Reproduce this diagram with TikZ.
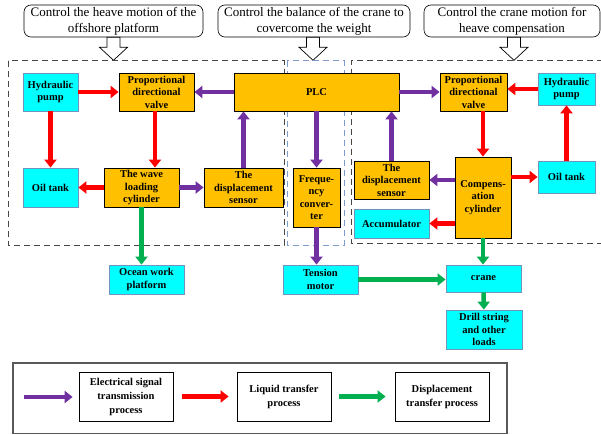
\documentclass[tikz,border=0pt]{standalone}
\usepackage{fontspec}
\setmainfont{Liberation Serif}
\usepackage{xcolor}
\usetikzlibrary{arrows.meta, positioning, calc}
\definecolor{cOrange}{RGB}{255,192,0}
\definecolor{cCyan}{RGB}{0,255,255}
\definecolor{cCyanEdge}{RGB}{112,148,190}
\definecolor{cPurple}{RGB}{112,48,160}
\definecolor{cRed}{RGB}{255,0,0}
\definecolor{cGreen}{RGB}{0,176,80}
\definecolor{cBlueDash}{RGB}{125,155,205}
\definecolor{cGrayDash}{RGB}{70,70,70}
\tikzset{
	unit/.style     ={rectangle, draw=black, line width=0.8pt, fill=cOrange, align=center, inner sep=1pt, font=\bfseries\fontsize{10.5}{12.5}\selectfont},
	device/.style   ={rectangle, draw=cCyanEdge, line width=0.8pt, fill=cCyan, align=center, inner sep=1pt, font=\bfseries\fontsize{10.5}{12.5}\selectfont},
	goal/.style     ={rectangle, rounded corners=7pt, draw=black, line width=0.6pt, align=center, inner sep=1pt, font=\fontsize{13}{16}\selectfont},
	legbox/.style   ={rectangle, draw=black, line width=0.8pt, align=center, minimum width=94pt, minimum height=49pt, font=\bfseries\fontsize{10.5}{14}\selectfont},
	flowarrow/.style={-{Triangle[length=8pt,width=12pt]}, line width=4.5pt},
	sig/.style      ={flowarrow, color=cPurple},
	liq/.style      ={flowarrow, color=cRed},
	disp/.style     ={flowarrow, color=cGreen},
	hollow/.style   ={draw=black, fill=white, line width=0.7pt, line join=miter},
	zone/.style     ={dash pattern=on 6pt off 4pt, line width=1pt},
}
\begin{document}
\begin{tikzpicture}[x=1pt, y=-1pt]
	\useasboundingbox (0,0) rectangle (601,435);
	% aims
	\node[goal, minimum width=179pt, minimum height=32pt] (t1) at (113.5,21) {Control the heave motion of the\\offshore platform};
	\node[goal, minimum width=192pt, minimum height=32pt] (t2) at (314,21) {Control the balance of the crane to\\covercome the weight};
	\node[goal, minimum width=176pt, minimum height=32pt] (t3) at (512,21) {Control the crane motion for\\heave compensation};
	\draw[hollow] ($(t1.south)+(-6.5,0)$) -- ++(0,10) -- ++(-7.5,0) -- ++(14,13) -- ++(14,-13) -- ++(-7.5,0) -- ++(0,-10) -- cycle;
	\draw[hollow] ($(t2.south)+(-7.5,0)$) -- ++(0,10) -- ++(-7.5,0) -- ++(14,13) -- ++(14,-13) -- ++(-7.5,0) -- ++(0,-10) -- cycle;
	\draw[hollow] ($(t3.south)+(-4.5,0)$) -- ++(0,10) -- ++(-7.5,0) -- ++(14,13) -- ++(14,-13) -- ++(-7.5,0) -- ++(0,-10) -- cycle;
	% zones
	\draw[zone, cGrayDash] (8,61) rectangle (284,245);
	\draw[zone, cBlueDash] (287,61) rectangle (344,245);
	\draw[zone, cGrayDash] (603,61) -- (351,61) -- (351,243) -- (603,243);
	% platform side
	\node[device, minimum width=55pt, minimum height=38pt] (hpL) at (50.5,92) {Hydraulic\\pump};
	\node[unit, minimum width=75pt, minimum height=38pt] (pdvL) at (156.5,92) {Proportional\\directional\\valve};
	\node[device, minimum width=55pt, minimum height=39pt] (otL) at (50.5,187.5) {Oil tank};
	\node[unit, minimum width=75pt, minimum height=39pt] (wlc) at (141.5,187.5) {The wave\\loading\\cylinder};
	\node[unit, minimum width=79pt, minimum height=39pt] (dsL) at (243.5,187.5) {The\\displacement\\sensor};
	\node[device, minimum width=75pt, minimum height=29pt] (owp) at (146.5,279.5) {Ocean work\\platform};
	% middle
	\node[unit, minimum width=165pt, minimum height=38pt] (plc) at (316.5,92) {PLC};
	\node[unit, minimum width=47pt, minimum height=59pt] (fc) at (316.5,197.5) {Freque-\\ncy\\conver-\\ter};
	\node[device, minimum width=75pt, minimum height=29pt] (tm) at (320.5,279.5) {Tension\\motor};
	% crane side
	\node[unit, minimum width=67pt, minimum height=38pt] (pdvR) at (473.5,92) {Proportional\\directional\\valve};
	\node[device, minimum width=57pt, minimum height=32pt] (hpR) at (566.5,89) {Hydraulic\\pump};
	\node[unit, minimum width=75pt, minimum height=38pt] (dsR) at (391.5,180) {The\\displacement\\sensor};
	\node[device, minimum width=75pt, minimum height=29pt] (acc) at (391.5,223.5) {Accumulator};
	\node[unit, minimum width=56pt, minimum height=81pt] (cc) at (483,197.5) {Compens-\\ation\\cylinder};
	\node[device, minimum width=57pt, minimum height=32pt] (otR) at (566.5,177) {Oil tank};
	\node[device, minimum width=75pt, minimum height=27pt] (crane) at (483.5,278.5) {crane};
	\node[device, minimum width=76pt, minimum height=39pt] (dsl) at (484,329.5) {Drill string\\and other\\loads};
	% flows
	\draw[liq] (hpL) -- (pdvL);
	\draw[liq] (hpL) -- (otL);
	\draw[liq] (pdvL.south -| 155,0) -- (wlc.north -| 155,0);
	\draw[sig] (plc) -- (pdvL);
	\draw[liq] (wlc) -- (otL);
	\draw[sig] (wlc) -- (dsL);
	\draw[sig] (dsL.north) -- (dsL.north |- plc.south);
	\draw[disp] (wlc.south) -- (wlc.south |- owp.north);
	\draw[sig] (plc.south) -- (fc.north);
	\draw[sig] (fc.south) -- (fc.south |- tm.north);
	\draw[disp] (tm.east) -- (tm.east -| crane.west);
	\draw[sig] (plc) -- (pdvR);
	\draw[sig] (dsR.north) -- (dsR.north |- plc.south);
	\draw[liq] (hpR.west) -- (hpR.west -| pdvR.east);
	\draw[liq] (otR.north) -- (hpR.south);
	\draw[liq] (pdvR.south -| cc.north) -- (cc.north);
	\draw[liq] (cc.east |- otR.west) -- (otR.west);
	\draw[sig] (cc.west |- dsR.east) -- (dsR.east);
	\draw[liq] (cc.west |- acc.east) -- (acc.east);
	\draw[disp] (cc.south) -- (cc.south |- crane.north);
	\draw[disp] (crane) -- (dsl);
	% legend
	\draw[draw=black!65, line width=1.2pt] (13,363) rectangle (507,433.5);
	\node[legbox] (lg1) at (126,396.5) {Electrical signal\\transmission\\process};
	\node[legbox] (lg2) at (284,396.5) {Liquid transfer\\process};
	\node[legbox] (lg3) at (442,396.5) {Displacement\\transfer process};
	\coordinate (lgs) at (24,397);
	\draw[sig, shorten >=6pt] (lgs) -- (lgs -| lg1.west);
	\draw[liq, shorten <=9pt, shorten >=8pt] (lg1) -- (lg2);
	\draw[disp, shorten <=8pt, shorten >=9pt] (lg2) -- (lg3);
\end{tikzpicture}
\end{document}
